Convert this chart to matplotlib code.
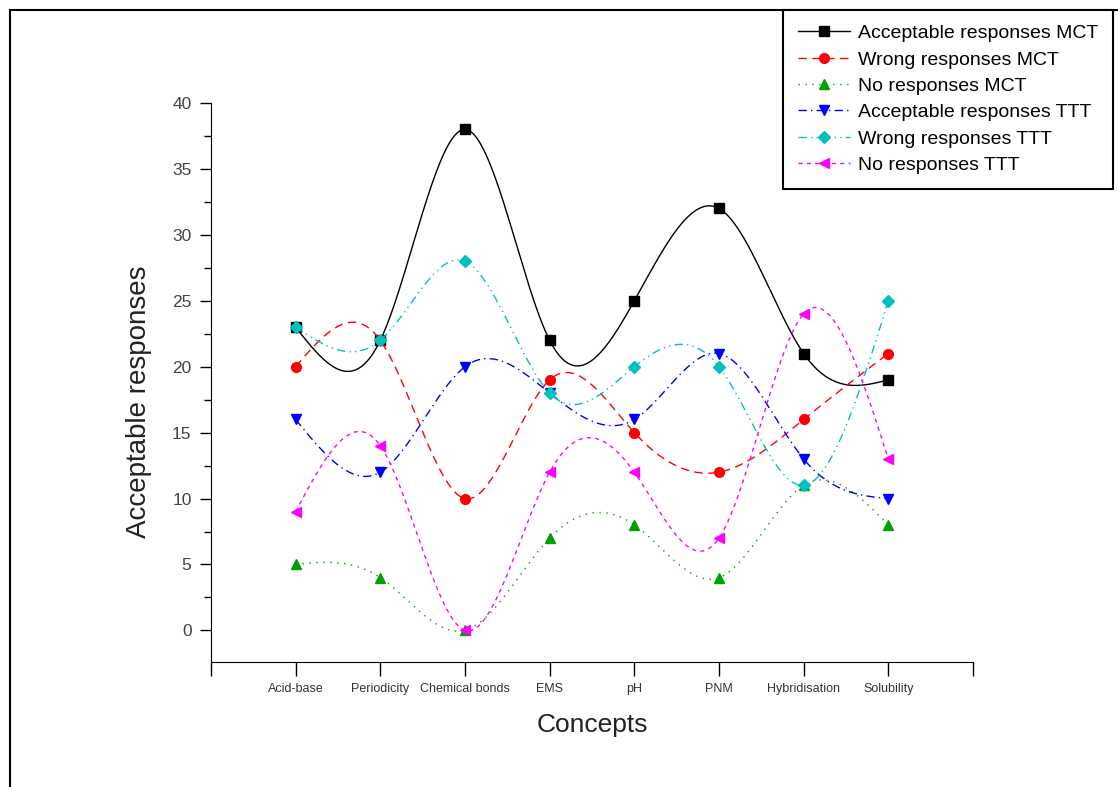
import numpy as np
import matplotlib
matplotlib.use("Agg")
import matplotlib.pyplot as plt
from matplotlib.lines import Line2D
from matplotlib.patches import Rectangle

plt.rcParams['font.family'] = ['Liberation Sans', 'DejaVu Sans']

concepts = ["Acid-base", "Periodicity", "Chemical bonds", "EMS", "pH", "PNM",
            "Hybridisation", "Solubility"]

acc_mct = [23, 22, 38, 22, 25, 32, 21, 19]
wrong_mct = [20, 22, 10, 19, 15, 12, 16, 21]
no_mct = [5, 4, 0, 7, 8, 4, 11, 8]
acc_ttt = [16, 12, 20, 18, 16, 21, 13, 10]
wrong_ttt = [23, 22, 28, 18, 20, 20, 11, 25]
no_ttt = [9, 14, 0, 12, 12, 7, 24, 13]


def spline(x, y, n=300):
    # natural cubic spline through the points, just for drawing the curve
    x = np.asarray(x, float)
    y = np.asarray(y, float)
    k = len(x)
    h = np.diff(x)
    A = np.zeros((k, k))
    b = np.zeros(k)
    A[0, 0] = 1
    A[-1, -1] = 1
    for i in range(1, k - 1):
        A[i, i - 1] = h[i - 1]
        A[i, i] = 2 * (h[i - 1] + h[i])
        A[i, i + 1] = h[i]
        b[i] = 6 * ((y[i + 1] - y[i]) / h[i] - (y[i] - y[i - 1]) / h[i - 1])
    M = np.linalg.solve(A, b)
    xs = np.linspace(x[0], x[-1], n)
    idx = np.clip(np.searchsorted(x, xs) - 1, 0, k - 2)
    x0, x1 = x[idx], x[idx + 1]
    hh = x1 - x0
    t0 = x1 - xs
    t1 = xs - x0
    ys = (M[idx] * t0 ** 3 / (6 * hh) + M[idx + 1] * t1 ** 3 / (6 * hh)
          + (y[idx] / hh - M[idx] * hh / 6) * t0
          + (y[idx + 1] / hh - M[idx + 1] * hh / 6) * t1)
    return xs, ys


series = [
    (acc_mct, "Acceptable responses MCT", "black", "-", "s"),
    (wrong_mct, "Wrong responses MCT", "red", (0, (6, 4)), "o"),
    (no_mct, "No responses MCT", "#00a000", (0, (1, 4)), "^"),
    (acc_ttt, "Acceptable responses TTT", "blue", (0, (6, 3, 1, 3)), "v"),
    (wrong_ttt, "Wrong responses TTT", "#00c0c0", (0, (6, 3, 1, 3, 1, 3)), "D"),
    (no_ttt, "No responses TTT", "magenta", (0, (3, 3)), "<"),
]

fig = plt.figure(figsize=(11.18, 7.87), dpi=100)
ax = fig.add_axes([0.1887, 0.1588, 0.6816, 0.7103])

xpos = np.arange(1, len(concepts) + 1)
handles = []
for vals, name, col, ls, mk in series:
    xs, ys = spline(xpos, vals)
    ax.plot(xs, ys, color=col, linestyle=ls, linewidth=1.0)
    ms = 6 if mk == "D" else 7
    ax.plot(xpos, vals, linestyle="none", marker=mk, color=col, markersize=ms)
    handles.append(Line2D([], [], color=col, linestyle=ls, linewidth=1.0,
                          marker=mk, markersize=ms, label=name))

ax.set_xlim(0, 9)
ax.set_ylim(-2.4, 40)
ax.spines['top'].set_visible(False)
ax.spines['right'].set_visible(False)

ax.set_xticks(np.arange(0, 10))
ax.set_xticklabels([""] + concepts + [""], fontsize=9)
ax.set_yticks(np.arange(0, 41, 5))
ax.set_yticks(np.arange(2.5, 40, 5), minor=True)
ax.tick_params(axis='x', direction='out', length=10, width=1, pad=5,
               labelcolor='#333333')
ax.tick_params(axis='y', which='major', direction='out', length=8, width=1,
               labelsize=12.5, labelcolor='#444444', pad=6)
ax.tick_params(axis='y', which='minor', direction='out', length=5, width=1)

ax.set_xlabel("Concepts", fontsize=19, color='#222222')
ax.set_ylabel("Acceptable responses", fontsize=20, color='#222222')
ax.xaxis.set_label_coords(0.5, -0.091)
ax.yaxis.set_label_coords(-0.077, 0.465)

leg = fig.legend(handles=handles, loc='upper left',
                 bbox_to_anchor=(783 / 1118, 1 - 10 / 787), borderaxespad=0,
                 fontsize=14, frameon=True, fancybox=False, framealpha=1,
                 edgecolor='black', handlelength=2.7, labelspacing=0.45,
                 borderpad=0.75, handletextpad=0.4)
leg.get_frame().set_linewidth(1.5)

fig.patches.append(Rectangle((10 / 1118, -0.1), 1.2, 1.1 - 10 / 787,
                             transform=fig.transFigure, fill=False,
                             edgecolor='black', linewidth=1.5, zorder=-1))

fig.savefig("out.png", dpi=100)
